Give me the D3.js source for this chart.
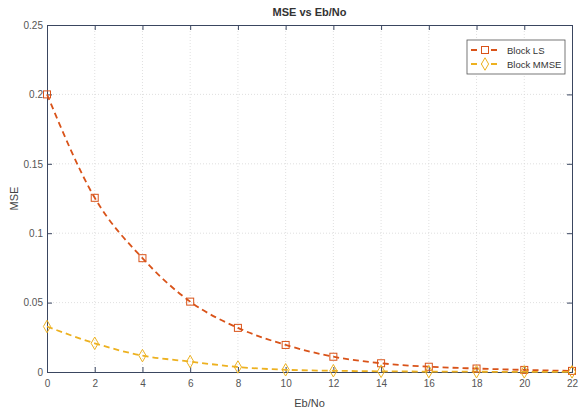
<!DOCTYPE html>
<html><head><meta charset="utf-8">
<script src="https://cdn.jsdelivr.net/npm/d3@7"></script>
<style>body{margin:0;background:#fff;}svg{display:block;font-family:"Liberation Sans",Arial,sans-serif;}</style>
</head><body><svg id="c" width="584" height="413"></svg>
<script>
const ebno = [0,2,4,6,8,10,12,14,16,18,20,22];
const blockLS = [0.200,0.1255,0.082,0.0507,0.0318,0.0195,0.011,0.0063,0.0038,0.0025,0.0015,0.0008];
const blockMMSE = [0.0328,0.0207,0.0118,0.0075,0.0036,0.0016,0.0009,0.0005,0.0003,0.0002,0.0001,0.0001];
const xTicks = [0,2,4,6,8,10,12,14,16,18,20,22];
const yTicks = [0,0.05,0.1,0.15,0.2,0.25];
const yTickLabels = ["0","0.05","0.1","0.15","0.2","0.25"];
const seriesNames = ["Block LS","Block MMSE"];
const colors = ["#d95319","#edb120"];

const svg = d3.select("#c");
const m = {l:47,t:25,r:12,b:41};
const W = 584 - m.l - m.r, H = 413 - m.t - m.b;
const x = d3.scaleLinear().domain([0,22]).range([m.l, m.l+W]);
const y = d3.scaleLinear().domain([0,0.25]).range([m.t+H, m.t]);

// grid
const g = svg.append("g");
g.selectAll(".gx").data(xTicks.slice(1,-1)).join("line")
 .attr("x1",d=>x(d)).attr("x2",d=>x(d)).attr("y1",m.t).attr("y2",m.t+H)
 .attr("stroke","#d8d8d8").attr("stroke-width",0.8).attr("stroke-dasharray","1,2");
g.selectAll(".gy").data(yTicks.slice(1,-1)).join("line")
 .attr("y1",d=>y(d)).attr("y2",d=>y(d)).attr("x1",m.l).attr("x2",m.l+W)
 .attr("stroke","#d8d8d8").attr("stroke-width",0.8).attr("stroke-dasharray","1,2");

// axes (ticks inside)
const axCol = "#3a4660";
const xa = svg.append("g").attr("transform",`translate(0,${m.t+H})`)
 .call(d3.axisBottom(x).tickValues(xTicks).tickSize(-5).tickPadding(8).tickFormat(d3.format("d")));
const xt = svg.append("g").attr("transform",`translate(0,${m.t})`)
 .call(d3.axisTop(x).tickValues(xTicks).tickSize(-5).tickFormat(""));
const ya = svg.append("g").attr("transform",`translate(${m.l},0)`)
 .call(d3.axisLeft(y).tickValues(yTicks).tickSize(-5).tickPadding(4).tickFormat((d,i)=>yTickLabels[i]));
const yr = svg.append("g").attr("transform",`translate(${m.l+W},0)`)
 .call(d3.axisRight(y).tickValues(yTicks).tickSize(-5).tickFormat(""));
[xa,xt,ya,yr].forEach(a=>{
  a.selectAll("path").attr("stroke",axCol).attr("stroke-width",1);
  a.selectAll("line").attr("stroke",axCol);
  a.selectAll("text").attr("fill","#555").attr("font-size",10);
});

// series
const data = [blockLS, blockMMSE];
const line = d3.line().x((d,i)=>x(ebno[i])).y(d=>y(d)).curve(d3.curveMonotoneX);
data.forEach((s,k)=>{
  svg.append("path").datum(s).attr("d",line).attr("fill","none")
   .attr("stroke",colors[k]).attr("stroke-width",1.8).attr("stroke-dasharray","6,4");
});
// markers
svg.selectAll(".sq").data(blockLS).join("rect")
 .attr("x",(d,i)=>x(ebno[i])-3.5).attr("y",d=>y(d)-3.5).attr("width",7).attr("height",7)
 .attr("fill","none").attr("stroke",colors[0]).attr("stroke-width",1);
const diamond = d3.symbol().type(d3.symbolDiamond).size(45);
svg.selectAll(".dm").data(blockMMSE).join("path")
 .attr("transform",(d,i)=>`translate(${x(ebno[i])},${y(d)})`).attr("d",diamond)
 .attr("fill","none").attr("stroke",colors[1]).attr("stroke-width",1);

// title & labels
svg.append("text").attr("x",m.l+W/2).attr("y",16).attr("text-anchor","middle")
 .attr("font-size",11).attr("font-weight","bold").attr("fill","#333").text("MSE vs Eb/No");
svg.append("text").attr("x",m.l+W/2).attr("y",407).attr("text-anchor","middle")
 .attr("font-size",11).attr("fill","#444").text("Eb/No");
svg.append("text").attr("transform",`translate(18,${m.t+H/2}) rotate(-90)`).attr("text-anchor","middle")
 .attr("font-size",11).attr("fill","#444").text("MSE");

// legend
const lg = svg.append("g").attr("transform","translate(467,40)");
lg.append("rect").attr("width",98).attr("height",34).attr("fill","#fff").attr("stroke","#555").attr("stroke-width",0.8);
seriesNames.forEach((n,k)=>{
  const yy = 10 + k*14;
  lg.append("line").attr("x1",4).attr("x2",32).attr("y1",yy).attr("y2",yy)
   .attr("stroke",colors[k]).attr("stroke-width",1.8).attr("stroke-dasharray","6,4");
  if(k===0) lg.append("rect").attr("x",14.5).attr("y",yy-3.5).attr("width",7).attr("height",7).attr("fill","#fff").attr("stroke",colors[0]);
  else lg.append("path").attr("transform",`translate(18,${yy})`).attr("d",diamond).attr("fill","#fff").attr("stroke",colors[1]);
  lg.append("text").attr("x",40).attr("y",yy+3.5).attr("font-size",9.5).attr("fill","#333").text(n);
});
</script></body></html>
